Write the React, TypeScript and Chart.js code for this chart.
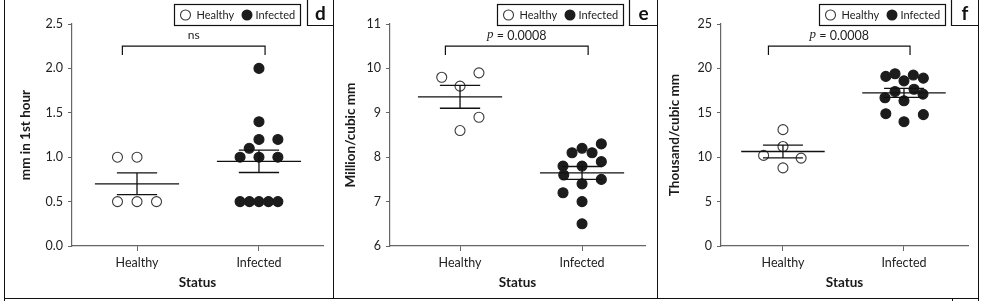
import React, { useEffect, useRef } from "react";
import { Chart, registerables } from "chart.js";

Chart.register(...registerables);

// ---------- data ----------
const categories = ["Healthy", "Infected"];
const groupPositions = [1, 2];

// panel d: ESR (mm in 1st hour)
const esrHealthy = [1.0, 1.0, 0.5, 0.5, 0.5];
const esrHealthyJitter = [-0.16, 0, -0.16, 0, 0.16];
const esrInfected = [2.0, 1.4, 1.2, 1.2, 1.1, 1.0, 1.0, 1.0, 0.5, 0.5, 0.5, 0.5, 0.5];
const esrInfectedJitter = [0, 0, 0, 0.155, -0.08, -0.155, 0, 0.155, -0.155, -0.078, 0, 0.078, 0.155];
const esrTicks = [0, 0.5, 1.0, 1.5, 2.0, 2.5];
const esrBracket = [2.15, 2.25];

// panel e: RBC (million/cubic mm)
const rbcHealthy = [9.8, 9.6, 9.9, 8.9, 8.6];
const rbcHealthyJitter = [-0.15, 0, 0.155, 0.155, 0];
const rbcInfected = [8.3, 8.2, 8.1, 8.1, 7.9, 7.8, 7.8, 7.6, 7.5, 7.4, 7.2, 7.0, 6.5];
const rbcInfectedJitter = [0.158, 0, -0.082, 0.082, 0.158, -0.156, 0, -0.15, 0.158, 0, -0.156, 0, 0];
const rbcTicks = [6, 7, 8, 9, 10, 11];
const rbcBracket = [10.3, 10.5];

// panel f: WBC (thousand/cubic mm)
const wbcHealthy = [13.1, 11.2, 10.2, 9.9, 8.8];
const wbcHealthyJitter = [0, 0, -0.16, 0.15, 0];
const wbcInfected = [19.1, 19.4, 19.25, 18.9, 18.6, 17.4, 17.65, 17.1, 16.7, 16.35, 14.9, 14.8, 14.0];
const wbcInfectedJitter = [-0.15, -0.074, 0.077, 0.16, 0, -0.074, 0.083, 0.157, -0.157, 0, -0.15, 0.16, 0];
const wbcTicks = [0, 5, 10, 15, 20, 25];
const wbcBracket = [21.5, 22.5];

const bracketX = [0.88, 2.05];

// ---------- style ----------
const FONT = "Lato, 'Open Sans', sans-serif";
const AXIS_COLOR = "#666666";
const TEXT_COLOR = "#222222";
const LINE_COLOR = "#111111";
const MEAN_HW = 0.345;
const CAP_HW = 0.165;
const H = 301;

type Panel = {
  key: string;
  left: number;
  width: number;
  yWidth: number;
  padRight: number;
  xMin: number;
  xMax: number;
  yTicks: number[];
  decimals: number;
  yTitle: string;
  yTitlePad: number;
  healthy: number[];
  healthyJitter: number[];
  infected: number[];
  infectedJitter: number[];
  bracket: number[];
  sig: string;
  letter: string;
  legendX: number;
  letterX: number;
  letterX2: number;
};

const panels: Panel[] = [
  {
    key: "d", left: 0, width: 333, yWidth: 72, padRight: 10, xMin: 0.467, xMax: 2.525,
    yTicks: esrTicks, decimals: 1, yTitle: "mm in 1st hour", yTitlePad: 18,
    healthy: esrHealthy, healthyJitter: esrHealthyJitter, infected: esrInfected, infectedJitter: esrInfectedJitter,
    bracket: esrBracket, sig: "ns", letter: "d", legendX: 174, letterX: 307, letterX2: 333,
  },
  {
    key: "e", left: 333, width: 324, yWidth: 57, padRight: 12, xMin: 0.426, xMax: 2.516,
    yTicks: rbcTicks, decimals: 0, yTitle: "Million/cubic mm", yTitlePad: 10,
    healthy: rbcHealthy, healthyJitter: rbcHealthyJitter, infected: rbcInfected, infectedJitter: rbcInfectedJitter,
    bracket: rbcBracket, sig: "p", letter: "e", legendX: 164, letterX: 296, letterX2: 324,
  },
  {
    key: "f", left: 657, width: 328, yWidth: 64, padRight: 17, xMin: 0.488, xMax: 2.529,
    yTicks: wbcTicks, decimals: 0, yTitle: "Thousand/cubic mm", yTitlePad: 10,
    healthy: wbcHealthy, healthyJitter: wbcHealthyJitter, infected: wbcInfected, infectedJitter: wbcInfectedJitter,
    bracket: wbcBracket, sig: "p", letter: "f", legendX: 162, letterX: 294, letterX2: 321,
  },
];

const mean = (a: number[]) => a.reduce((s, v) => s + v, 0) / a.length;
const sem = (a: number[]) => {
  const m = mean(a);
  const v = a.reduce((s, x) => s + (x - m) * (x - m), 0) / (a.length - 1);
  return Math.sqrt(v / a.length);
};

function lineDs(data: { x: number; y: number }[], width = 1.3) {
  return {
    data,
    showLine: true,
    borderColor: LINE_COLOR,
    borderWidth: width,
    pointRadius: 0,
    fill: false,
    order: 0,
  };
}

function buildDatasets(p: Panel) {
  const ds: any[] = [];
  const groups = [
    { vals: p.healthy, jit: p.healthyJitter, pos: groupPositions[0], filled: false, label: categories[0] },
    { vals: p.infected, jit: p.infectedJitter, pos: groupPositions[1], filled: true, label: categories[1] },
  ];
  groups.forEach((g) => {
    ds.push({
      label: g.label,
      data: g.vals.map((v, i) => ({ x: g.pos + g.jit[i], y: v })),
      pointRadius: 5,
      pointBackgroundColor: g.filled ? "#1c1c1c" : "#ffffff",
      pointBorderColor: g.filled ? "#1c1c1c" : "#3a3a3a",
      pointBorderWidth: 1.1,
      showLine: false,
      order: 1,
    });
  });
  groups.forEach((g) => {
    const m = mean(g.vals);
    const s = sem(g.vals);
    ds.push(lineDs([{ x: g.pos - MEAN_HW, y: m }, { x: g.pos + MEAN_HW, y: m }]));
    ds.push(lineDs([{ x: g.pos, y: m - s }, { x: g.pos, y: m + s }]));
    ds.push(lineDs([{ x: g.pos - CAP_HW, y: m + s }, { x: g.pos + CAP_HW, y: m + s }]));
    ds.push(lineDs([{ x: g.pos - CAP_HW, y: m - s }, { x: g.pos + CAP_HW, y: m - s }]));
  });
  ds.push(
    lineDs(
      [
        { x: bracketX[0], y: p.bracket[0] },
        { x: bracketX[0], y: p.bracket[1] },
        { x: bracketX[1], y: p.bracket[1] },
        { x: bracketX[1], y: p.bracket[0] },
      ],
      1.2
    )
  );
  return ds;
}

const decorPlugin = {
  id: "panelDecor",
  afterDraw(chart: any, _args: any, opts: any) {
    const ctx = chart.ctx as CanvasRenderingContext2D;
    const p: Panel = opts.panel;
    ctx.save();
    // legend box
    const lx = p.legendX;
    ctx.strokeStyle = LINE_COLOR;
    ctx.lineWidth = 1.2;
    ctx.strokeRect(lx + 0.5, 4.5, 126, 21);
    // legend items
    ctx.lineWidth = 1.1;
    ctx.beginPath();
    ctx.arc(lx + 11.5, 15, 5, 0, Math.PI * 2);
    ctx.fillStyle = "#fff";
    ctx.fill();
    ctx.strokeStyle = "#3a3a3a";
    ctx.stroke();
    ctx.beginPath();
    ctx.arc(lx + 73, 15, 5.5, 0, Math.PI * 2);
    ctx.fillStyle = "#1c1c1c";
    ctx.fill();
    ctx.fillStyle = TEXT_COLOR;
    ctx.font = `11px ${FONT}`;
    ctx.textAlign = "left";
    ctx.textBaseline = "middle";
    ctx.fillText(categories[0], lx + 22.5, 15.5);
    ctx.fillText(categories[1], lx + 81.5, 15.5);
    // letter box (left + bottom sides; right side is the panel frame)
    ctx.strokeStyle = LINE_COLOR;
    ctx.lineWidth = 1.2;
    ctx.beginPath();
    ctx.moveTo(p.letterX + 0.5, 0);
    ctx.lineTo(p.letterX + 0.5, 25.5);
    ctx.lineTo(p.letterX2, 25.5);
    ctx.stroke();
    ctx.fillStyle = "#111";
    ctx.font = `bold 19px ${FONT}`;
    ctx.textAlign = "center";
    ctx.textBaseline = "alphabetic";
    ctx.fillText(p.letter, (p.letterX + p.letterX2) / 2 + 0.5, 20);
    // significance label
    const xs = chart.scales.x;
    const cx = (xs.getPixelForValue(bracketX[0]) + xs.getPixelForValue(bracketX[1])) / 2;
    ctx.fillStyle = TEXT_COLOR;
    ctx.textBaseline = "middle";
    if (p.sig === "ns") {
      ctx.font = `12px ${FONT}`;
      ctx.textAlign = "center";
      ctx.fillText("ns", cx, 35);
    } else {
      const pFont = `italic 13px "Liberation Serif", "DejaVu Serif", serif`;
      const rFont = `12.5px ${FONT}`;
      const rest = " = 0.0008";
      ctx.font = pFont;
      const wp = ctx.measureText("p").width;
      ctx.font = rFont;
      const wr = ctx.measureText(rest).width;
      const x0 = cx - (wp + wr) / 2;
      ctx.textAlign = "left";
      ctx.font = pFont;
      ctx.fillText("p", x0, 35);
      ctx.font = rFont;
      ctx.fillText(rest, x0 + wp, 35.5);
    }
    ctx.restore();
  },
};

function PanelChart({ p }: { p: Panel }) {
  const ref = useRef<HTMLCanvasElement | null>(null);
  useEffect(() => {
    if (!ref.current) return;
    const chart = new Chart(ref.current, {
      type: "scatter",
      data: { datasets: buildDatasets(p) },
      plugins: [decorPlugin as any],
      options: {
        animation: false,
        responsive: false,
        devicePixelRatio: 1,
        events: [],
        layout: { padding: { top: 24, right: p.padRight, left: 0, bottom: 0 } },
        plugins: {
          legend: { display: false },
          tooltip: { enabled: false },
          panelDecor: { panel: p },
        } as any,
        scales: {
          x: {
            type: "linear",
            min: p.xMin,
            max: p.xMax,
            afterBuildTicks: (axis: any) => {
              axis.ticks = groupPositions.map((v) => ({ value: v }));
            },
            afterFit: (s: any) => {
              s.height = H - 246;
            },
            ticks: {
              callback: (v: any) => {
                const i = groupPositions.indexOf(Number(v));
                return i >= 0 ? categories[i] : "";
              },
              autoSkip: false,
              maxRotation: 0,
              padding: 4,
              color: TEXT_COLOR,
              font: { family: FONT, size: 12.5 },
            },
            grid: {
              display: true,
              drawOnChartArea: false,
              drawTicks: true,
              tickLength: 5,
              color: AXIS_COLOR,
              tickColor: AXIS_COLOR,
              lineWidth: 1,
            },
            border: { display: true, color: AXIS_COLOR, width: 1.2 },
            title: {
              display: true,
              text: "Status",
              color: "#1a1a1a",
              font: { family: FONT, size: 13.5, weight: "bold" },
              padding: { top: 0, bottom: 10 },
            },
          },
          y: {
            type: "linear",
            min: p.yTicks[0],
            max: p.yTicks[p.yTicks.length - 1],
            afterBuildTicks: (axis: any) => {
              axis.ticks = p.yTicks.map((v) => ({ value: v }));
            },
            afterFit: (s: any) => {
              s.width = p.yWidth;
            },
            ticks: {
              callback: (v: any) => Number(v).toFixed(p.decimals),
              padding: 5,
              color: TEXT_COLOR,
              font: { family: FONT, size: 12.5 },
            },
            grid: {
              display: true,
              drawOnChartArea: false,
              drawTicks: true,
              tickLength: 4,
              color: AXIS_COLOR,
              tickColor: AXIS_COLOR,
              lineWidth: 1,
            },
            border: { display: true, color: AXIS_COLOR, width: 1.2 },
            title: {
              display: true,
              text: p.yTitle,
              color: "#1a1a1a",
              font: { family: FONT, size: 13.5, weight: "bold" },
              padding: { top: p.yTitlePad, bottom: 0 },
            },
          },
        },
      } as any,
    });
    return () => chart.destroy();
  }, [p]);
  return (
    <canvas
      ref={ref}
      width={p.width}
      height={H}
      style={{ position: "absolute", left: p.left, top: 0, width: p.width, height: H }}
    />
  );
}

function Line({ x, y, w, h }: { x: number; y: number; w: number; h: number }) {
  return <div style={{ position: "absolute", left: x, top: y, width: w, height: h, background: "#111", zIndex: 2 }} />;
}

export default function App() {
  return (
    <div style={{ position: "fixed", left: 0, top: 0, width: 985, height: H, background: "#fff", overflow: "hidden" }}>
      {panels.map((p) => (
        <PanelChart key={p.key} p={p} />
      ))}
      <Line x={4} y={0} w={1.3} h={H} />
      <Line x={333} y={0} w={1.3} h={298} />
      <Line x={657} y={0} w={1.3} h={298} />
      <Line x={978} y={0} w={1.3} h={H} />
      <Line x={4} y={297.5} w={975} h={1.3} />
      <Line x={952} y={298} w={1.3} h={3} />
    </div>
  );
}
